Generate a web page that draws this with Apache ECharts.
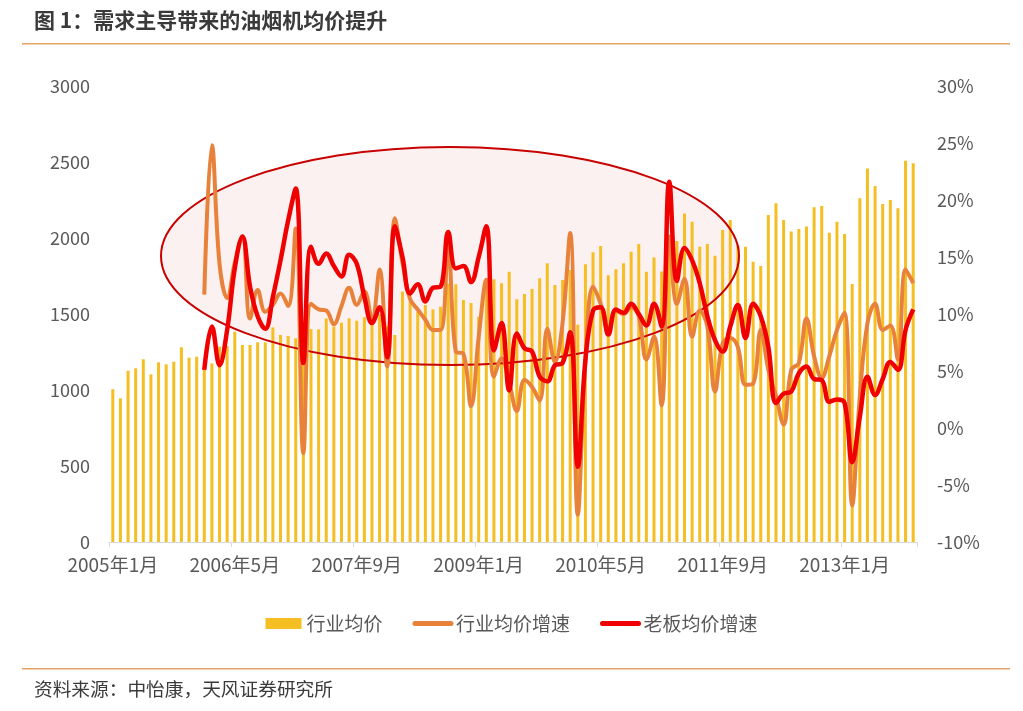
<!DOCTYPE html>
<html>
<head>
<meta charset="utf-8">
<script src="https://cdn.jsdelivr.net/npm/echarts@6/dist/echarts.min.js"></script>
<style>
html,body{margin:0;padding:0;background:#fff;}
#chart{width:1023px;height:711px;}
</style>
</head>
<body>
<div id="chart"></div>
<script>
// ---- data ----
const titleText = '图 1：需求主导带来的油烟机均价提升';
const sourceText = '资料来源：中怡康，天风证券研究所';
const seriesNames = ['行业均价', '行业均价增速', '老板均价增速'];

const startYear = 2005;
const startMonth = 1;
const monthCount = 106;
const growthStartIndex = 12;

const leftTicks = { min: 0, max: 3000, interval: 500 };
const rightTicks = { min: -10, max: 30, interval: 5 };

// 行业均价 (monthly, Jan 2005 - Oct 2013)
const industryPrice = [
  1005, 945, 1127, 1143, 1202, 1103, 1182, 1169, 1186, 1281, 1213, 1219,
  1150, 1175, 1285, 1290, 1384, 1296, 1296, 1314, 1314, 1412, 1362, 1355,
  1340, 1350, 1400, 1399, 1471, 1417, 1443, 1471, 1456, 1480, 1440, 1500,
  1420, 1362, 1647, 1581, 1515, 1560, 1530, 1548, 1700, 1695, 1592, 1572,
  1482, 1724, 1728, 1702, 1778, 1597, 1632, 1665, 1735, 1834, 1691, 1724,
  1790, 1430, 1828, 1907, 1947, 1755, 1794, 1834, 1910, 1960, 1778, 1871,
  1780, 1990, 1980, 2162, 2107, 1943, 1961, 1884, 2053, 2118, 1950, 1943,
  1844, 1816, 2151, 2228, 2118, 2042, 2059, 2075, 2202, 2211, 2035, 2107,
  2026, 1697, 2261, 2458, 2342, 2224, 2250, 2195, 2509, 2491
];

// 行业均价增速 (%, from Jan 2006)
const industryGrowth = [
  11.7, 24.8, 14.4, 11.4, 14.5, 16.8, 9.6, 12.1, 10.2, 10.8, 11.8, 10.7,
  17.5, -2.2, 10.9, 10.4, 10.3, 9.1, 10.7, 12.3, 10.8, 12.0, 9.5, 13.9,
  5.4, 18.4, 14.5, 11.3, 10.4, 9.5, 8.6, 8.6, 15.9, 6.7, 6.5, 1.9,
  8.0, 13.0, 4.5, 6.1, 4.0, 1.5, 4.2, 3.6, 2.4, 8.7, 5.8, 9.2,
  17.1, -7.6, 5.7, 12.4, 10.9, 8.6, 10.3, 10.0, 10.6, 9.8, 6.0, 8.0,
  2.0, 16.8, 10.9, 13.1, 8.0, 10.3, 8.9, 3.2, 7.4, 7.9, 7.1, 3.8,
  3.9, 8.6, 5.1, 2.8, 0.3, 5.1, 5.7, 9.6, 6.3, 4.4, 6.3, 8.6,
  10.1, -6.8, 2.8, 9.2, 10.9, 8.6, 9.0, 6.0, 13.9, 12.7
];

// 老板均价增速 (%, from Jan 2006)
const robamGrowth = [
  5.1, 8.9, 5.5, 8.6, 14.0, 16.8, 12.4, 9.8, 8.7, 11.5, 14.7, 18.2,
  21.0, 5.7, 15.9, 14.4, 15.3, 14.2, 13.3, 15.2, 14.4, 11.5, 9.2, 10.6,
  6.2, 17.7, 15.0, 11.8, 12.6, 11.1, 12.3, 12.4, 17.2, 14.0, 14.2, 12.8,
  15.0, 17.7, 6.8, 9.2, 3.3, 8.3, 7.0, 6.7, 4.5, 4.1, 5.5, 5.7,
  8.4, -3.4, 6.0, 10.3, 10.6, 8.2, 10.4, 10.1, 10.9, 10.0, 9.0, 10.9,
  8.9, 21.6, 12.9, 15.8, 14.7, 12.7, 9.8, 7.7, 6.7, 8.9, 10.8, 7.9,
  10.9, 9.8, 7.1, 2.2, 3.0, 3.2, 4.8, 5.4, 4.3, 4.2, 2.3, 2.5,
  2.2, -3.0, 1.0, 4.5, 2.9, 4.3, 5.8, 5.1, 8.6, 10.4
];

// ---- build ----
const categories = [];
for (let k = 0; k < monthCount; k++) {
  const t = startMonth - 1 + k;
  categories.push((startYear + Math.floor(t / 12)) + '年' + (t % 12 + 1) + '月');
}
const pad = Array(growthStartIndex).fill('-');

const FONT = '"Noto Sans CJK SC", "Noto Sans", sans-serif';
const labelColor = '#595959';
const barColor = '#F5BE22';
const orangeColor = '#E8823A';
const redColor = '#F00000';

const chart = echarts.init(document.getElementById('chart'), null, { renderer: 'canvas' });
chart.setOption({
  backgroundColor: '#ffffff',
  animation: false,
  textStyle: { fontFamily: FONT },
  grid: { left: 109, right: 106, top: 86, bottom: 169, containLabel: false },
  legend: {
    data: [
      { name: seriesNames[0], icon: 'rect' },
      { name: seriesNames[1], itemStyle: { opacity: 0 }, lineStyle: { width: 5, cap: 'round' } },
      { name: seriesNames[2], itemStyle: { opacity: 0 }, lineStyle: { width: 5, cap: 'round' } }
    ],
    left: 'center',
    top: 609,
    itemWidth: 36,
    itemHeight: 11,
    itemGap: 30,
    textStyle: { fontSize: 19, color: labelColor, fontFamily: FONT }
  },
  xAxis: {
    type: 'category',
    data: categories,
    boundaryGap: true,
    axisLine: { lineStyle: { color: '#d9d9d9', width: 1 } },
    axisTick: { show: true, interval: 15, length: 5, lineStyle: { color: '#d9d9d9' } },
    axisLabel: { interval: 15, color: labelColor, fontSize: 19, margin: 13, fontFamily: FONT }
  },
  yAxis: [
    {
      type: 'value',
      min: leftTicks.min, max: leftTicks.max, interval: leftTicks.interval,
      axisLine: { show: false }, axisTick: { show: false },
      splitLine: { show: false },
      axisLabel: { color: labelColor, fontSize: 18, margin: 19, fontFamily: FONT,
        formatter: function (v) { return String(v); } }
    },
    {
      type: 'value',
      min: rightTicks.min, max: rightTicks.max, interval: rightTicks.interval,
      axisLine: { show: false }, axisTick: { show: false },
      splitLine: { show: false },
      axisLabel: { color: labelColor, fontSize: 18, margin: 20, fontFamily: FONT,
        formatter: function (v) { return v + '%'; } }
    }
  ],
  series: [
    {
      name: seriesNames[0], type: 'bar', yAxisIndex: 0,
      data: industryPrice, barWidth: 3, z: 2,
      itemStyle: { color: barColor }
    },
    {
      name: seriesNames[1], type: 'line', yAxisIndex: 1,
      data: pad.concat(industryGrowth), smooth: 0.4, symbol: 'none', z: 4,
      lineStyle: { color: orangeColor, width: 4 }, itemStyle: { color: orangeColor }
    },
    {
      name: seriesNames[2], type: 'line', yAxisIndex: 1,
      data: pad.concat(robamGrowth), smooth: 0.4, symbol: 'none', z: 5,
      lineStyle: { color: redColor, width: 4.5 }, itemStyle: { color: redColor }
    }
  ],
  graphic: [
    { type: 'text', left: 34, top: 10, z: 10,
      style: { text: titleText, fontSize: 21, fontWeight: 'bold', fill: '#3a3a3a', fontFamily: FONT } },
    { type: 'rect', shape: { x: 22, y: 43, width: 988, height: 1.5 }, style: { fill: '#E3A366' }, z: 10 },
    { type: 'rect', shape: { x: 22, y: 668, width: 988, height: 1.5 }, style: { fill: '#E3A366' }, z: 10 },
    { type: 'text', left: 34, top: 680, z: 10,
      style: { text: sourceText, fontSize: 18.7, fill: '#3a3a3a', fontFamily: FONT } },
    { type: 'ellipse', shape: { cx: 450, cy: 256, rx: 289, ry: 109 },
      style: { fill: '#FCF1F1', stroke: 'none' }, z: 0 },
    { type: 'ellipse', shape: { cx: 450, cy: 256, rx: 289, ry: 109 },
      style: { fill: 'none', stroke: '#C80000', lineWidth: 2 }, z: 3 }
  ]
});
</script>
</body>
</html>
